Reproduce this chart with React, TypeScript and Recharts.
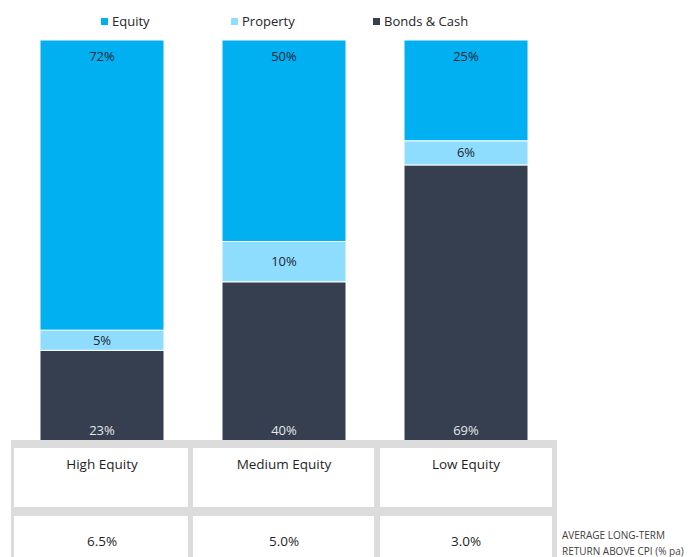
import React from 'react';
import { BarChart, Bar, XAxis, YAxis, LabelList } from 'recharts';

const categories = ['High Equity', 'Medium Equity', 'Low Equity'];
const equity = [72, 50, 25];
const property = [5, 10, 6];
const bondsCash = [23, 40, 69];
const returns = ['6.5%', '5.0%', '3.0%'];
const returnLabel = ['AVERAGE LONG-TERM', 'RETURN ABOVE CPI (% pa)'];

const series = [
  { key: 'equity', name: 'Equity', color: '#00B0F0' },
  { key: 'property', name: 'Property', color: '#8EDDFE' },
  { key: 'bondsCash', name: 'Bonds & Cash', color: '#353F4F' },
];

const rows = categories.map((name, i) => ({
  name,
  equity: equity[i],
  property: property[i],
  bondsCash: bondsCash[i],
}));

const LEGEND_X = [101, 231, 373];
const CELLS = [
  { left: 14, width: 174 },
  { left: 193, width: 181 },
  { left: 380, width: 172 },
];
const CENTERS = [102, 284, 466];

const pct = (v: any) => `${v}%`;

export default function App() {
  return (
    <div
      style={{
        position: 'absolute',
        left: 0,
        top: 0,
        width: 693,
        height: 557,
        overflow: 'hidden',
        background: '#fff',
        fontFamily: '"Open Sans", "Noto Sans", sans-serif',
      }}
    >
      {series.map((s, i) => (
        <div
          key={s.key}
          style={{
            position: 'absolute',
            left: LEGEND_X[i],
            top: 12,
            height: 18,
            display: 'flex',
            alignItems: 'center',
            fontSize: 13,
            color: '#262626',
            whiteSpace: 'nowrap',
          }}
        >
          <span style={{ width: 7, height: 7, background: s.color, marginRight: 4 }} />
          {s.name}
        </div>
      ))}

      <div style={{ position: 'absolute', left: 0, top: 0 }}>
        <BarChart
          width={693}
          height={557}
          data={rows}
          margin={{ top: 40, right: 136, bottom: 114, left: 11 }}
          barSize={124}
        >
          <XAxis dataKey="name" hide />
          <YAxis hide domain={[0, 100]} />
          <Bar dataKey="bondsCash" stackId="a" fill="#353F4F" stroke="#fff" strokeWidth={1} isAnimationActive={false}>
            <LabelList dataKey="bondsCash" position="insideBottom" offset={8} formatter={pct} fill="#E6E8EB" stroke="none" fontSize={13} />
          </Bar>
          <Bar dataKey="property" stackId="a" fill="#8EDDFE" stroke="#fff" strokeWidth={1} isAnimationActive={false}>
            <LabelList dataKey="property" position="center" formatter={pct} fill="#1E2530" stroke="none" fontSize={13} />
          </Bar>
          <Bar dataKey="equity" stackId="a" fill="#00B0F0" stroke="#fff" strokeWidth={1} isAnimationActive={false}>
            <LabelList dataKey="equity" position="insideTop" offset={12} formatter={pct} fill="#1A2634" stroke="none" fontSize={13} />
          </Bar>
        </BarChart>
      </div>

      <div
        style={{
          position: 'absolute',
          left: 11,
          top: 440,
          width: 546,
          height: 117,
          background: '#DCDCDC',
        }}
      />
      {categories.map((c, i) => (
        <React.Fragment key={c}>
          <div
            style={{
              position: 'absolute',
              left: CELLS[i].left,
              top: 448,
              width: CELLS[i].width,
              height: 59,
              background: '#fff',
            }}
          />
          <div
            style={{
              position: 'absolute',
              left: CELLS[i].left,
              top: 516,
              width: CELLS[i].width,
              height: 41,
              background: '#fff',
            }}
          />
          <div
            style={{
              position: 'absolute',
              left: CENTERS[i] - 80,
              width: 160,
              top: 454,
              textAlign: 'center',
              fontSize: 13.5,
              color: '#1F1F1F',
              lineHeight: '20px',
            }}
          >
            {c}
          </div>
          <div
            style={{
              position: 'absolute',
              left: CENTERS[i] - 80,
              width: 160,
              top: 531,
              textAlign: 'center',
              fontSize: 13.5,
              color: '#1F1F1F',
              lineHeight: '20px',
            }}
          >
            {returns[i]}
          </div>
        </React.Fragment>
      ))}
      <div
        style={{
          position: 'absolute',
          left: 562,
          top: 527,
          fontSize: 10,
          lineHeight: '16px',
          color: '#404040',
          whiteSpace: 'nowrap',
        }}
      >
        {returnLabel.map((t) => (
          <div key={t}>{t}</div>
        ))}
      </div>
    </div>
  );
}
